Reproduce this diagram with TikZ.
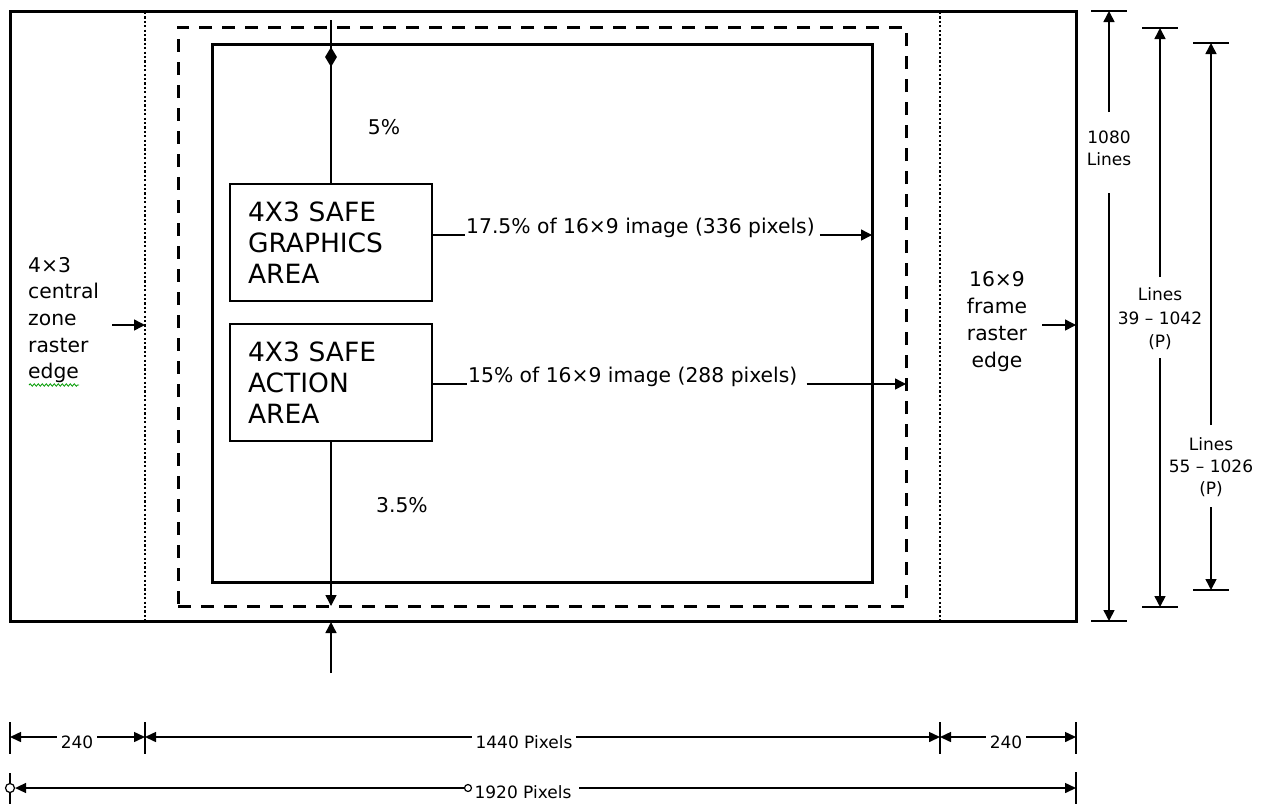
\documentclass[tikz,border=0pt]{standalone}
\usepackage{fontspec}
\setmainfont{DejaVu Sans}
\usetikzlibrary{arrows.meta,decorations.pathmorphing,shapes.geometric}
\tikzset{
  heavy/.style={line width=3pt},
  thinline/.style={line width=1.5pt},
  arr/.style={-{Triangle[length=11pt,width=11pt]}},
  dbl/.style={{Triangle[length=11pt,width=10pt]}-{Triangle[length=11pt,width=10pt]}},
  dotline/.style={line width=2.4pt, dash pattern=on 2.2pt off 2.2pt},
  dashline/.style={line width=3pt, dash pattern=on 13pt off 10pt},
  rectnode/.style={inner sep=0pt, outer sep=0pt},
  areabox/.style={draw, line width=1.5pt, outer sep=0pt, minimum width=202pt, minimum height=117pt,
     text width=166pt, inner xsep=18pt, align=left, font=\fontsize{26.5}{31}\selectfont},
  midtxt/.style={font=\fontsize{20.3}{27}\selectfont, inner sep=0pt},
  smalltxt/.style={font=\fontsize{17}{22}\selectfont, inner sep=0pt, align=center},
  gaptxt/.style={font=\fontsize{17}{20}\selectfont, fill=white, inner xsep=4pt, inner ysep=1pt},
  tickline/.style={line width=1.5pt},
  ring/.style={circle, draw, line width=1.2pt, fill=white, inner sep=0pt},
}
\begin{document}
\begin{tikzpicture}[x=1pt,y=-1pt]
\useasboundingbox (0,0) rectangle (1271,804);

% frames
\node[rectnode, draw, heavy, minimum width=1066pt, minimum height=610pt] (frame) at (543,316) {};
\draw[dotline] (145,12) -- (145,620);
\draw[dotline] (940,12) -- (940,620);
\node[rectnode, draw, dashline, minimum width=728pt, minimum height=579pt] (safe) at (542,316.5) {};
\node[rectnode, draw, heavy, minimum width=660pt, minimum height=538pt] (inner) at (542,313) {};

% area boxes
\node[areabox] (gfx) at (331,242.5) {4X3 SAFE\\GRAPHICS\\AREA};
\node[areabox] (act) at (331,382.5) {4X3 SAFE\\ACTION\\AREA};

% top marker line
\coordinate (top0) at (331,20);
\draw[thinline] (top0) -- (gfx.north);
\node[diamond, fill=black, inner sep=0pt, shape aspect=0.6, minimum width=12pt, minimum height=20pt] (dmd) at (331,57) {};
\node[midtxt] (p5) at (384,127) {5\%};

% bottom marker lines
\draw[thinline,arr] (act.south) -- (act.south |- safe.south);
\coordinate (up0) at (331,673);
\draw[thinline,arr] (up0) -- (331,622);
\node[midtxt] (p35) at (402,505) {3.5\%};

% horizontal measures
\node[midtxt, anchor=base west] (t1) at (466,233) {17.5\% of 16×9 image (336 pixels)};
\coordinate (l1) at (0,235);
\draw[thinline] (gfx.east |- l1) -- ([xshift=-1pt]t1.west |- l1);
\draw[thinline,arr] ([xshift=5pt]t1.east |- l1) -- (inner.east |- l1);

\node[midtxt, anchor=base west] (t2) at (468,382) {15\% of 16×9 image (288 pixels)};
\coordinate (l2) at (0,384);
\draw[thinline] (act.east |- l2) -- ([xshift=-1pt]t2.west |- l2);
\draw[thinline,arr] ([xshift=9pt]t2.east |- l2) -- (safe.east |- l2);

% side labels
\node[midtxt, align=left, anchor=west, font=\fontsize{20.3}{26.6}\selectfont] (ltxt) at (28,320) {4×3\\central\\zone\\raster\\edge};
\draw[green!60!black, line width=0.8pt, decorate, decoration={snake, amplitude=1.2pt, segment length=4pt}] (29,385) -- (79,385);
\coordinate (la) at (112,325);
\draw[thinline,arr] (la) -- (145,325);

\node[midtxt, align=center, font=\fontsize{20.3}{27}\selectfont] (rtxt) at (997,322) {16×9\\frame\\raster\\edge};
\coordinate (ra) at (1042,325);
\draw[thinline,arr] (ra) -- (ra -| frame.east);

% vertical dimension: 1080 lines
\node[smalltxt] (dA) at (1109,148) {1080\\Lines};
\coordinate (dAt) at (1109,11);
\coordinate (dAb) at (1109,621);
\coordinate (dA1) at (1109,112);
\coordinate (dA2) at (1109,193);
\draw[tickline] ([xshift=-18pt]dAt) -- ([xshift=18pt]dAt);
\draw[tickline] ([xshift=-18pt]dAb) -- ([xshift=18pt]dAb);
\draw[thinline,arr] (dA1) -- (dAt);
\draw[thinline,arr] (dA2) -- (dAb);

% vertical dimension: 39-1042
\node[smalltxt, font=\fontsize{17}{23.5}\selectfont] (dB) at (1160,319) {Lines\\39 – 1042\\(P)};
\coordinate (dBt) at (1160,28);
\coordinate (dBb) at (1160,607);
\coordinate (dB1) at (1160,277);
\coordinate (dB2) at (1160,358);
\draw[tickline] ([xshift=-18pt]dBt) -- ([xshift=18pt]dBt);
\draw[tickline] ([xshift=-18pt]dBb) -- ([xshift=18pt]dBb);
\draw[thinline,arr] (dB1) -- (dBt);
\draw[thinline,arr] (dB2) -- (dBb);

% vertical dimension: 55-1026
\node[smalltxt] (dC) at (1211,467) {Lines\\55 – 1026\\(P)};
\coordinate (dCt) at (1211,43);
\coordinate (dCb) at (1211,590);
\coordinate (dC1) at (1211,425);
\coordinate (dC2) at (1211,507);
\draw[tickline] ([xshift=-18pt]dCt) -- ([xshift=18pt]dCt);
\draw[tickline] ([xshift=-18pt]dCb) -- ([xshift=18pt]dCb);
\draw[thinline,arr] (dC1) -- (dCt);
\draw[thinline,arr] (dC2) -- (dCb);

% bottom dimensions row 1
\coordinate (b1) at (10,737);
\coordinate (b2) at (145,737);
\coordinate (b3) at (940,737);
\coordinate (b4) at (1076,737);
\foreach \p in {b1,b2,b3,b4} {\draw[tickline] ([yshift=15pt]\p) -- ([yshift=-17pt]\p);}
\draw[thinline,dbl] (b1) -- (b2);
\draw[thinline,dbl] (b2) -- (b3);
\draw[thinline,dbl] (b3) -- (b4);
\node[gaptxt] (n240a) at (77,742) {240};
\node[gaptxt] (n1440) at (524,742) {1440 Pixels};
\node[gaptxt] (n240b) at (1006,742) {240};

% bottom dimensions row 2
\draw[tickline] (10,773) -- (10,804);
\draw[tickline] (1076,772) -- (1076,804);
\node[ring, minimum size=9pt] (c0) at (10,788) {};
\coordinate (c1) at (1076,788);
\draw[thinline,dbl] (c0.east) -- (c1);
\node[gaptxt, inner xsep=8pt] (n1920) at (523,792) {1920 Pixels};
\node[ring, minimum size=7pt] (cc) at (468,788) {};
\end{tikzpicture}
\end{document}
